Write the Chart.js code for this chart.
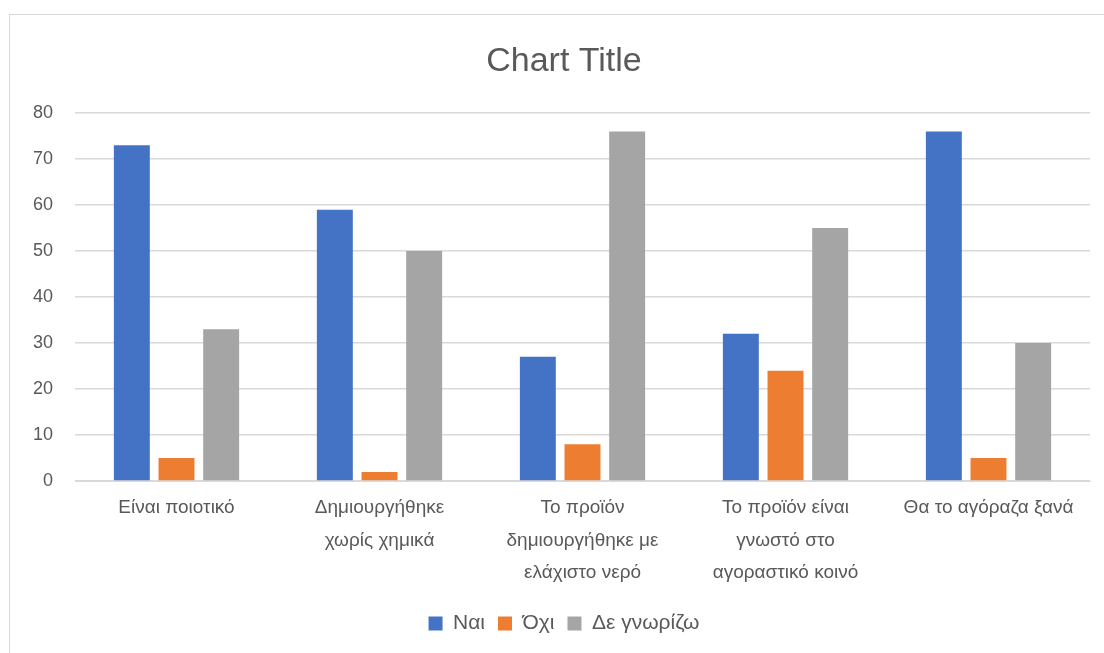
<!DOCTYPE html>
<html>
<head>
<meta charset="utf-8">
<script src="https://cdn.jsdelivr.net/npm/chart.js@4.4.1/dist/chart.umd.min.js"></script>
<style>
  html, body { margin: 0; padding: 0; background: #ffffff; overflow: hidden; }
  #frame {
    position: absolute; left: 9px; top: 14px; width: 1120px; height: 650px;
    border: 1px solid #D9D9D9; box-sizing: border-box;
  }
  #wrap { position: absolute; left: 0; top: 0; width: 1104px; height: 653px; overflow: hidden; }
</style>
</head>
<body>
<div id="frame"></div>
<div id="wrap"><canvas id="chart" width="1132" height="653"></canvas></div>
<script>
// Survey answers per statement
const categories = [
  'Είναι ποιοτικό',
  ['Δημιουργήθηκε', 'χωρίς χημικά'],
  ['Το προϊόν', 'δημιουργήθηκε με', 'ελάχιστο νερό'],
  ['Το προϊόν είναι', 'γνωστό στο', 'αγοραστικό κοινό'],
  'Θα το αγόραζα ξανά'
];
const seriesNames = ['Ναι', 'Όχι', 'Δε γνωρίζω'];
const yes = [73, 59, 27, 32, 76];
const no = [5, 2, 8, 24, 5];
const dontKnow = [33, 50, 76, 55, 30];
const yTicks = [0, 10, 20, 30, 40, 50, 60, 70, 80];

const colors = ['#4472C4', '#ED7D31', '#A5A5A5'];
const textColor = '#595959';
const baseFont = "'Liberation Sans', sans-serif";

const ctx = document.getElementById('chart');
new Chart(ctx, {
  type: 'bar',
  data: {
    labels: categories,
    datasets: [yes, no, dontKnow].map((vals, i) => ({
      label: seriesNames[i],
      data: vals,
      backgroundColor: colors[i],
      borderWidth: 0,
      categoryPercentage: 0.66,
      barPercentage: 0.805
    }))
  },
  options: {
    responsive: false,
    animation: false,
    layout: { padding: { left: 10, right: 14, top: 0, bottom: 9 } },
    plugins: {
      title: {
        display: true,
        text: 'Chart Title',
        color: textColor,
        font: { family: baseFont, size: 34, weight: 'normal', lineHeight: 1.2 },
        padding: { top: 41.6, bottom: 30.6 }
      },
      legend: {
        position: 'bottom',
        labels: {
          color: textColor,
          font: { family: baseFont, size: 21 },
          boxWidth: 14,
          boxHeight: 14,
          padding: 13
        }
      },
      tooltip: { enabled: false }
    },
    scales: {
      x: {
        grid: { display: false, drawTicks: false },
        border: { display: true, color: '#D9D9D9', width: 1 },
        ticks: {
          color: textColor,
          font: { family: baseFont, size: 19, lineHeight: 1.7 },
          padding: 11,
          maxRotation: 0,
          autoSkip: false
        }
      },
      y: {
        min: 0,
        max: 80,
        afterBuildTicks: (scale) => { scale.ticks = yTicks.map(v => ({ value: v })); },
        afterFit: (scale) => { scale.width = 65; },
        grid: { color: '#D9D9D9', lineWidth: 1.5, drawTicks: false },
        border: { display: false },
        ticks: {
          color: textColor,
          font: { family: baseFont, size: 18 },
          padding: 22
        }
      },
      // empty right-hand margin inside the plot frame
      rightMargin: {
        position: 'right',
        display: true,
        grid: { display: false, drawTicks: false },
        border: { display: false },
        ticks: { display: false },
        afterFit: (scale) => { scale.width = 28; }
      }
    }
  }
});
</script>
</body>
</html>
